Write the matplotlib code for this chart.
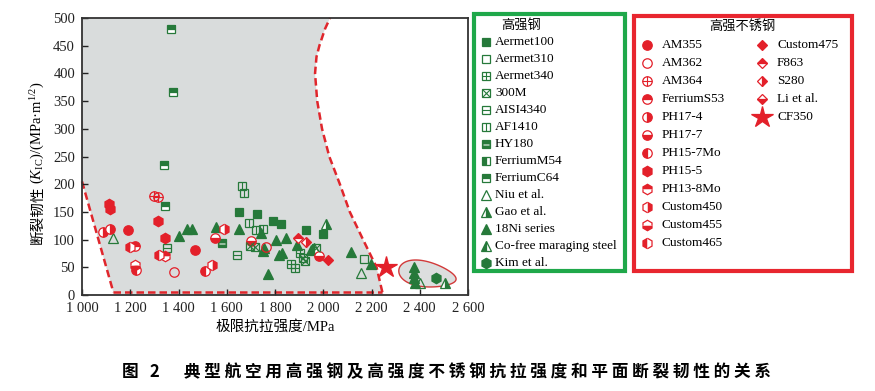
import numpy as np
import matplotlib.pyplot as plt
from matplotlib.patches import Polygon, Rectangle

plt.rcParams['font.family'] = ['Liberation Serif', 'Noto Sans CJK SC']
plt.rcParams['mathtext.fontset'] = 'custom'
plt.rcParams['mathtext.rm'] = 'Liberation Serif'
plt.rcParams['mathtext.it'] = 'Liberation Serif:italic'

GREEN = '#26793a'
RED = '#e3202a'

# ---- 高强钢 (MPa, MPa·m^1/2) ----
aermet100 = [(1652, 149), (1724, 146), (1790, 134), (1825, 128), (1928, 117), (2000, 110)]
aermet310 = [(2169, 65)]
aermet340 = [(1865, 56), (1883, 48), (1904, 75)]
m300 = [(1696, 88), (1717, 86), (1917, 66), (1924, 62), (1972, 84)]
aisi4340 = [(1352, 84), (1644, 73)]
af1410 = [(1662, 197), (1672, 185), (1694, 130), (1721, 117), (1749, 120)]
hy180 = [(1579, 93)]
ferrium_m54 = []
ferrium_c64 = [(1369, 480), (1376, 366), (1341, 234), (1345, 161)]
niu = [(1127, 103), (2156, 40), (2400, 22)]
gao = [(2011, 128), (2505, 22)]
ni18 = [(1403, 106), (1435, 120), (1456, 120), (1554, 122), (1651, 119), (1742, 112),
        (1749, 80), (1755, 85), (1770, 38), (1804, 99), (1846, 102), (1818, 72),
        (1827, 75), (1892, 90), (1948, 81), (2114, 78), (2198, 56),
        (2376, 50), (2376, 40), (2378, 30), (2380, 22)]
cofree = [(1960, 85)]
kim = [(2467, 30)]

# ---- 高强不锈钢 ----
am355 = [(1191, 117), (1470, 81)]
am362 = [(1380, 42), (1763, 86)]
am364 = [(1297, 179), (1315, 176)]
ferrium_s53 = [(1221, 88)]
ph17_4 = [(1086, 113), (1117, 119)]
ph17_7 = [(1551, 102), (1699, 98), (1984, 70)]
ph15_7mo = [(1508, 44), (1225, 46)]
ph15_5 = [(1110, 165), (1117, 156), (1315, 133), (1345, 102)]
ph13_8mo = [(1343, 70)]
custom450 = [(1590, 119), (1537, 54)]
custom455 = [(1218, 54)]
custom465 = [(1200, 86), (1318, 72)]
custom475 = [(2021, 64)]
f863 = [(1894, 102)]
s280 = [(1928, 95)]
li = []
cf350 = [(2260, 51)]

# 区域边界 (虚线)
left_edge_x = [1000, 1130]
left_edge_y = [205, 5]
bottom_y = 5
right_edge_x = [2245, 2221, 2165, 2110, 2069, 2025, 1995, 1975, 1966, 1972, 1984, 2007, 2028]
right_edge_y = [5, 50, 100, 150, 200, 250, 300, 350, 400, 430, 450, 480, 500]

green_series = [
    ('Aermet100', aermet100, 's', 'full', None),
    ('Aermet310', aermet310, 's', 'none', None),
    ('Aermet340', aermet340, 's', 'none', '+'),
    ('300M', m300, 's', 'none', 'x'),
    ('AISI4340', aisi4340, 's', 'none', '_'),
    ('AF1410', af1410, 's', 'none', '|'),
    ('HY180', hy180, 's', 'full', 'stripe'),
    ('FerriumM54', ferrium_m54, 's', 'left', None),
    ('FerriumC64', ferrium_c64, 's', 'top', None),
    ('Niu et al.', niu, '^', 'none', None),
    ('Gao et al.', gao, '^', 'right', None),
    ('18Ni series', ni18, '^', 'full', None),
    ('Co-free maraging steel', cofree, '^', 'left', None),
    ('Kim et al.', kim, 'h', 'full', None),
]
red_series = [
    ('AM355', am355, 'o', 'full', None),
    ('AM362', am362, 'o', 'none', None),
    ('AM364', am364, 'o', 'none', '+'),
    ('FerriumS53', ferrium_s53, 'o', 'top', None),
    ('PH17-4', ph17_4, 'o', 'right', None),
    ('PH17-7', ph17_7, 'o', 'bottom', None),
    ('PH15-7Mo', ph15_7mo, 'o', 'left', None),
    ('PH15-5', ph15_5, 'h', 'full', None),
    ('PH13-8Mo', ph13_8mo, 'h', 'top', None),
    ('Custom450', custom450, 'h', 'right', None),
    ('Custom455', custom455, 'h', 'bottom', None),
    ('Custom465', custom465, 'h', 'left', None),
    ('Custom475', custom475, 'D', 'full', None),
    ('F863', f863, 'D', 'top', None),
    ('S280', s280, 'D', 'right', None),
    ('Li et al.', li, 'D', 'bottom', None),
    ('CF350', cf350, '*', 'full', None),
]

STRIPE = [(-1, -0.42), (1, -0.42), (1, -0.12), (-1, -0.12)]


def draw(ax, xs, ys, marker, fill, over, color, z=5):
    if len(xs) == 0:
        return
    ms = {'s': 6.2, '^': 7.5, 'o': 6.8, 'h': 7.5, 'D': 5.4, '*': 16}[marker]
    ax.plot(xs, ys, ls='none', marker=marker, ms=ms, mec=color, mfc=color,
            fillstyle=fill, markerfacecoloralt='white', mew=0.9,
            clip_on=False, zorder=z)
    if over == 'stripe':
        ax.plot(xs, ys, ls='none', marker=STRIPE, ms=ms - 1.2, mfc='white',
                mec='none', clip_on=False, zorder=z + 0.1)
    elif over:
        ax.plot(xs, ys, ls='none', marker=over, ms=ms, mec=color, mew=0.8,
                clip_on=False, zorder=z + 0.1)


fig = plt.figure(figsize=(8.75, 3.91), dpi=100)
ax = fig.add_axes([82 / 875, 1 - 295 / 391, 386 / 875, 277 / 391])

# 灰色区域
poly = [(left_edge_x[0], left_edge_y[0]), (1133, 0)]
poly += [(2250, 0)] + list(zip(right_edge_x, right_edge_y))[1:]
poly += [(1000, 500)]
ax.add_patch(Polygon(poly, closed=True, facecolor='#d9dcdc', edgecolor='none', zorder=0))
dash = dict(color='#e0262c', lw=1.8, ls=(0, (3, 1.6)), zorder=1, clip_on=False)
ax.plot(left_edge_x, left_edge_y, **dash)
ax.plot([left_edge_x[1], right_edge_x[0]], [bottom_y, bottom_y], **dash)
ax.plot(right_edge_x, right_edge_y, **dash)

# 右下角椭圆 (左端略大)
t = np.linspace(0, 2 * np.pi, 200)
ang = np.deg2rad(-10)
px = 29 * np.cos(t)
py = 12.5 * np.sin(t) * (1 - 0.25 * np.cos(t))
ex = 2432 + (px * np.cos(ang) - py * np.sin(ang)) * 4.145
ey = 37 + (px * np.sin(ang) + py * np.cos(ang)) * 1.805
ax.fill(ex, ey, facecolor='#dcdede', edgecolor='#d23a3a', lw=1.0, zorder=1, clip_on=False)

for name, pts, mk, fs, ov in green_series + red_series:
    color = GREEN if (name, pts, mk, fs, ov) in green_series else RED
    xs = [p[0] for p in pts]
    ys = [p[1] for p in pts]
    draw(ax, xs, ys, mk, fs, ov, color)

ax.set_xlim(1000, 2600)
ax.set_ylim(0, 500)
xt = list(range(1000, 2601, 200))
ax.set_xticks(xt)
ax.set_xticklabels([f'{v:,}'.replace(',', ' ') for v in xt])
ax.set_yticks(range(0, 501, 50))
ax.tick_params(direction='in', length=4, width=1, labelsize=10.5, colors='#222222',
               top=False, right=False, pad=5)
for sp in ax.spines.values():
    sp.set_color('#333333')
    sp.set_linewidth(1.3)
ax.set_xlabel('极限抗拉强度/MPa', fontsize=10.5, labelpad=4)

# y 轴标题: 中文与公式分开写
renderer = fig.canvas.get_renderer()
yl_x = 38 / 875
t1 = fig.text(yl_x, 1 - 244 / 391, '断裂韧性', rotation=90, ha='center', va='bottom',
              fontsize=10.5, family=['Noto Sans CJK SC'])
bb = t1.get_window_extent(renderer)
fig.text(yl_x, (bb.y1 + 2) / fig.bbox.height, r'($K_{\rm IC}$)/(MPa·m$^{1/2}$)',
         rotation=90, ha='center', va='bottom', fontsize=10.5)

# 图例
lg = fig.add_axes([0, 0, 1, 1])
lg.set_xlim(0, 875)
lg.set_ylim(391, 0)
lg.axis('off')
lg.add_patch(Rectangle((474, 14), 151, 257, fill=False, edgecolor='#1fa84a', lw=3))
lg.add_patch(Rectangle((634, 16), 218, 255, fill=False, edgecolor='#e8262f', lw=3))
lg.text(521, 25, '高强钢', ha='center', va='center', fontsize=9.5)
lg.text(742, 26, '高强不锈钢', ha='center', va='center', fontsize=9.5)

for i, (name, pts, mk, fs, ov) in enumerate(green_series):
    y = 42 + i * 17.0
    draw(lg, [486], [y], mk, fs, ov, GREEN)
    lg.text(495, y, name, va='center', fontsize=9.5)
for i, (name, pts, mk, fs, ov) in enumerate(red_series):
    col, row = divmod(i, 12)
    y = 45 + row * 18.0
    mx = 647 if col == 0 else 762
    draw(lg, [mx], [y], mk, fs, ov, RED)
    lg.text(mx + 15, y, name, va='center', fontsize=9.5)

caption = '图 2　典型航空用高强钢及高强度不锈钢抗拉强度和平面断裂韧性的关系'
fig.text(0.51, 1 - 372 / 391, ' '.join(caption), ha='center', va='center',
         fontsize=12, fontweight='bold', family=['Noto Sans CJK SC', 'DejaVu Sans'])

fig.savefig('out.png', dpi=100)
